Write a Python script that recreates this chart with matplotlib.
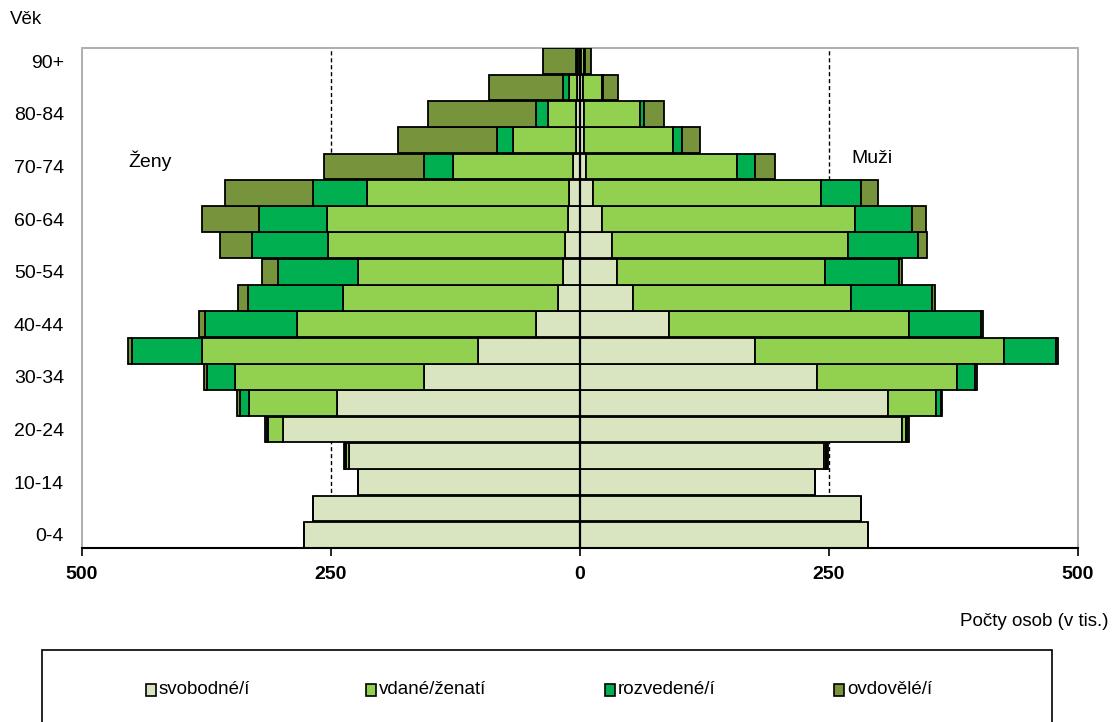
#!/usr/bin/env python3
"""Populační pyramida podle rodinného stavu (v tis. osob)."""

import matplotlib
matplotlib.use("Agg")
import matplotlib.pyplot as plt
import numpy as np
from matplotlib.patches import Rectangle

plt.rcParams["font.family"] = ["Liberation Sans", "DejaVu Sans"]

# Věkové skupiny (od nejmladší)
ages = ["0-4", "5-9", "10-14", "15-19", "20-24", "25-29", "30-34", "35-39",
        "40-44", "45-49", "50-54", "55-59", "60-64", "65-69", "70-74",
        "75-79", "80-84", "85-89", "90+"]

# Ženy (v tis.)
zeny_svobodne = [277, 268, 223, 232, 298, 244, 157, 102, 44, 22, 17, 15, 12, 11, 7, 4, 4, 3, 1]
zeny_vdane = [0, 0, 0, 3, 15, 88, 189, 278, 240, 216, 206, 238, 242, 203, 121, 63, 28, 8, 2]
zeny_rozvedene = [0, 0, 0, 1, 1, 9, 29, 70, 93, 95, 80, 76, 68, 54, 29, 16, 12, 6, 1]
zeny_ovdovele = [0, 0, 0, 1, 2, 3, 3, 4, 6, 10, 16, 32, 58, 88, 100, 100, 109, 74, 33]

# Muži (v tis.)
muzi_svobodni = [289, 282, 236, 245, 323, 309, 238, 176, 89, 53, 37, 32, 22, 13, 6, 4, 4, 3, 1]
muzi_zenati = [0, 0, 0, 2, 4, 48, 141, 250, 241, 219, 209, 237, 254, 229, 152, 89, 56, 19, 3]
muzi_rozvedeni = [0, 0, 0, 1, 1, 5, 18, 52, 73, 81, 74, 70, 57, 40, 18, 9, 4, 1, 1]
muzi_ovdoveli = [0, 0, 0, 1, 2, 1, 2, 2, 2, 3, 3, 9, 14, 17, 20, 18, 20, 15, 6]

labels = ["svobodné/í", "vdané/ženatí", "rozvedené/í", "ovdovělé/í"]
colors = ["#d9e4c0", "#92d050", "#00b050", "#77933c"]

zeny = [zeny_svobodne, zeny_vdane, zeny_rozvedene, zeny_ovdovele]
muzi = [muzi_svobodni, muzi_zenati, muzi_rozvedeni, muzi_ovdoveli]

fig = plt.figure(figsize=(11.12, 7.22), dpi=100)
W, H = 1112, 722
ax = fig.add_axes([82 / W, 1 - 548 / H, (1078 - 82) / W, (548 - 48) / H])

y = np.arange(len(ages))
left_z = np.zeros(len(ages))
left_m = np.zeros(len(ages))
for k in range(4):
    vz = -np.array(zeny[k], dtype=float)
    vm = np.array(muzi[k], dtype=float)
    ax.barh(y, vz, left=left_z, height=0.98, color=colors[k],
            edgecolor="black", linewidth=1.3, zorder=3)
    ax.barh(y, vm, left=left_m, height=0.98, color=colors[k],
            edgecolor="black", linewidth=1.3, zorder=3)
    left_z += vz
    left_m += vm

ax.set_xlim(-500, 500)
ax.set_ylim(-0.5, len(ages) - 0.5)

# mřížka
for xv in (-250, 250):
    ax.axvline(xv, color="black", linestyle=(0, (3, 2)), linewidth=1.0, zorder=1)
ax.axvline(0, color="black", linewidth=1.6, zorder=4)

for side in ("top", "left", "right"):
    ax.spines[side].set_color("#a0a0a0")
    ax.spines[side].set_linewidth(1.2)
ax.spines["left"].set_linestyle((0, (3, 1)))
ax.spines["right"].set_linestyle((0, (3, 1)))
ax.spines["bottom"].set_color("black")
ax.spines["bottom"].set_linewidth(1.5)
ax.spines["bottom"].set_zorder(5)

ax.set_xticks([-500, -250, 0, 250, 500])
ax.set_xticklabels(["500", "250", "0", "250", "500"], fontsize=14, fontweight="bold")
ax.tick_params(axis="x", direction="out", length=6, width=1.2, pad=7)

ax.set_yticks(y[::2])
ax.set_yticklabels(ages[::2], fontsize=14)
ax.tick_params(axis="y", length=0, pad=13)

ax.text(-453, 14.22, "Ženy", fontsize=14, va="center", ha="left")
ax.text(272, 14.3, "Muži", fontsize=14, va="center", ha="left")

fig.text(10 / W, 1 - 20 / H, "Věk", fontsize=13.5, va="center", ha="left")
fig.text(1108 / W, 1 - 622 / H, "Počty osob (v tis.)", fontsize=13.5,
         va="center", ha="right")

# legenda
fig.patches.append(Rectangle((42 / W, 1 - 760 / H), (1052 - 42) / W, 110 / H,
                             transform=fig.transFigure, facecolor="white",
                             edgecolor="black", linewidth=1.2))
leg_x = [146, 366, 605, 834]
for lx, lab, col in zip(leg_x, labels, colors):
    fig.patches.append(Rectangle((lx / W, 1 - 696 / H), 10 / W, 12 / H,
                                 transform=fig.transFigure, facecolor=col,
                                 edgecolor="black", linewidth=1.2))
    fig.text((lx + 13) / W, 1 - 689 / H, lab, fontsize=13.5, va="center", ha="left")

fig.savefig("out.png", dpi=100)
